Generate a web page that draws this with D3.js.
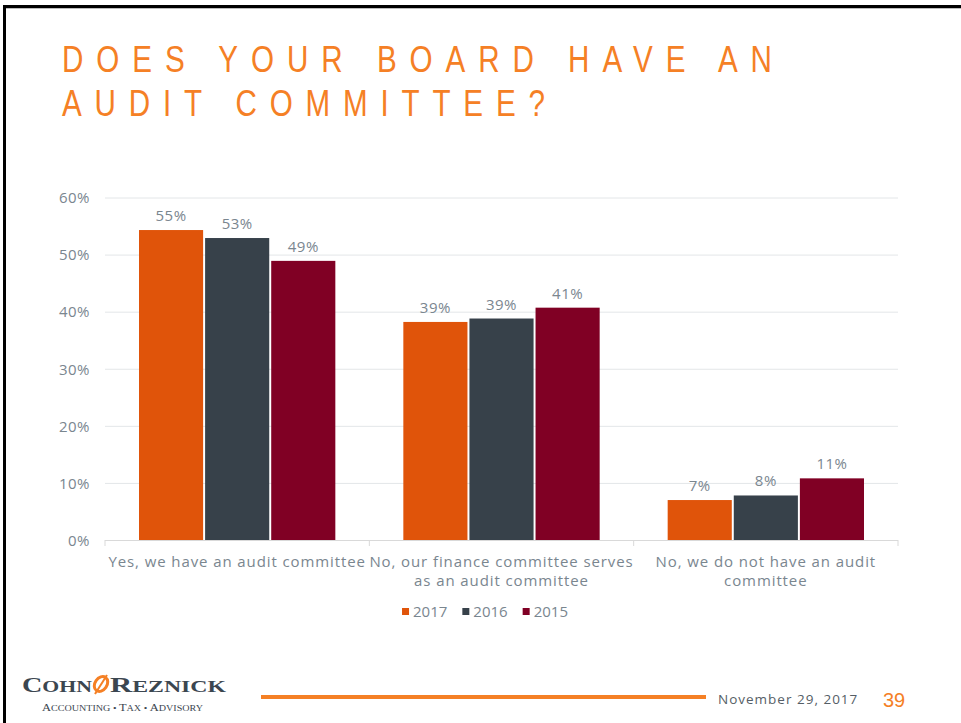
<!DOCTYPE html>
<html>
<head>
<meta charset="utf-8">
<script src="https://cdn.jsdelivr.net/npm/d3@7"></script>
<style>
  html, body { margin: 0; padding: 0; background: #fff; }
  svg { display: block; }
</style>
</head>
<body>
<svg id="chart" width="961" height="723"></svg>
<script>
// ---- data ----
const categories = [
  ["Yes, we have an audit committee"],
  ["No, our finance committee serves", "as an audit committee"],
  ["No, we do not have an audit", "committee"]
];
const seriesNames = ["2017", "2016", "2015"];
const values2017 = [0.543, 0.382, 0.070];
const values2016 = [0.529, 0.388, 0.078];
const values2015 = [0.489, 0.407, 0.108];
const labels2017 = ["55%", "39%", "7%"];
const labels2016 = ["53%", "39%", "8%"];
const labels2015 = ["49%", "41%", "11%"];
const yTicks = [0, 0.1, 0.2, 0.3, 0.4, 0.5, 0.6];
const colors = ["#E0540A", "#37414A", "#800024"];
const titleLines = ["DOES YOUR BOARD HAVE AN", "AUDIT COMMITTEE?"];

const seriesValues = [values2017, values2016, values2015];
const seriesLabels = [labels2017, labels2016, labels2015];

const svg = d3.select("#chart");
const font = "'Open Sans', sans-serif";
const grayText = "#7A868F";

// ---- frame ----
svg.append("rect").attr("x", 3).attr("y", 5).attr("width", 958).attr("height", 3).attr("fill", "#000");
svg.append("rect").attr("x", 3).attr("y", 5).attr("width", 3).attr("height", 718).attr("fill", "#000");
svg.append("rect").attr("x", 6).attr("y", 8).attr("width", 955).attr("height", 1).attr("fill", "#bbb");

// ---- title ----
const titleWidths = [710, 483];
const sx = 0.8;
svg.append("g").attr("transform", `scale(${sx},1)`)
  .selectAll("text.title").data(titleLines).join("text")
  .attr("class", "title")
  .attr("x", 62 / sx)
  .attr("y", (d, i) => 72 + i * 44)
  .attr("textLength", (d, i) => titleWidths[i] / sx)
  .attr("lengthAdjust", "spacing")
  .attr("font-family", "'Liberation Sans', Arial, sans-serif")
  .attr("font-size", 37)
  .attr("fill", "#F58025")
  .text(d => d);

// ---- scales ----
const y = d3.scaleLinear().domain([0, 0.6]).range([540, 197.5]);
const x0 = d3.scaleBand().domain(d3.range(categories.length)).range([105, 898]).padding(0);
const groupPad = 34;
const x1 = d3.scaleBand().domain(d3.range(seriesNames.length))
  .range([groupPad, x0.bandwidth() - groupPad]).paddingInner(0.03);

// ---- gridlines & y axis ----
const yAxis = d3.axisLeft(y).tickValues(yTicks).tickFormat(d3.format(".0%"))
  .tickSize(-(898 - 105)).tickPadding(15);
const gy = svg.append("g").attr("transform", "translate(105,0)").call(yAxis);
gy.select(".domain").remove();
gy.selectAll(".tick line").attr("stroke", "#E3E6E8").attr("stroke-width", 1);
gy.selectAll(".tick text").attr("font-family", font).attr("font-size", 15)
  .attr("letter-spacing", 0.5)
  .attr("fill", grayText).attr("dy", "0.35em");

// ---- bars ----
const groups = svg.append("g").selectAll("g").data(categories).join("g")
  .attr("transform", (d, i) => `translate(${x0(i)},0)`);

groups.each(function(cat, ci) {
  const g = d3.select(this);
  seriesNames.forEach((s, si) => {
    const v = seriesValues[si][ci];
    g.append("rect")
      .attr("x", x1(si))
      .attr("y", y(v))
      .attr("width", x1.bandwidth())
      .attr("height", y(0) - y(v))
      .attr("fill", colors[si]);
    g.append("text")
      .attr("x", x1(si) + x1.bandwidth() / 2)
      .attr("y", y(v) - 9)
      .attr("text-anchor", "middle")
      .attr("font-family", font).attr("font-size", 15)
      .attr("letter-spacing", 0.5)
      .attr("fill", grayText)
      .text(seriesLabels[si][ci]);
  });
});

// ---- x axis ----
const xa = svg.append("g");
xa.append("line").attr("x1", 105).attr("x2", 898).attr("y1", y(0) + 0.5).attr("y2", y(0) + 0.5)
  .attr("stroke", "#D9D9D9").attr("stroke-width", 1);
const bounds = categories.map((d, i) => x0(i)).concat([x0(categories.length - 1) + x0.bandwidth()]);
xa.selectAll("line.tk").data(bounds).join("line").attr("class", "tk")
  .attr("x1", d => d).attr("x2", d => d).attr("y1", y(0)).attr("y2", y(0) + 6)
  .attr("stroke", "#D9D9D9");
xa.selectAll("text.cat").data(categories).join("text").attr("class", "cat")
  .attr("x", (d, i) => x0(i) + x0.bandwidth() / 2)
  .attr("y", 567)
  .attr("text-anchor", "middle")
  .attr("font-family", font).attr("font-size", 15).attr("fill", grayText)
  .attr("letter-spacing", 0.9)
  .each(function(lines) {
    d3.select(this).selectAll("tspan").data(lines).join("tspan")
      .attr("x", d3.select(this).attr("x"))
      .attr("dy", (d, i) => i === 0 ? 0 : 19)
      .text(d => d);
  });

// ---- legend ----
const legend = svg.append("g");
let lx = 0;
seriesNames.forEach((s, i) => {
  const item = legend.append("g").attr("transform", `translate(${lx},0)`);
  item.append("rect").attr("x", 0).attr("y", 608).attr("width", 7).attr("height", 7).attr("fill", colors[i]);
  const t = item.append("text").attr("x", 11).attr("y", 617)
    .attr("font-family", font).attr("font-size", 15).attr("fill", grayText).text(s);
  lx += 11 + t.node().getComputedTextLength() + 15;
});
const lw = lx - 15;
legend.attr("transform", `translate(${485 - lw / 2},0)`);

// ---- footer ----
svg.append("line").attr("x1", 261).attr("x2", 706).attr("y1", 697).attr("y2", 697)
  .attr("stroke", "#F58025").attr("stroke-width", 4);
svg.append("text").attr("x", 718).attr("y", 704)
  .attr("font-family", font).attr("font-size", 13.5).attr("letter-spacing", 1)
  .attr("fill", "#555E66").text("November 29, 2017");
svg.append("text").attr("x", 883).attr("y", 707)
  .attr("font-family", "'Liberation Sans', Arial, sans-serif").attr("font-size", 20)
  .attr("fill", "#F58025").text("39");

// ---- logo ----
const logo = svg.append("g");
const serif = "'Liberation Serif', 'DejaVu Serif', serif";
const lt1 = logo.append("text").attr("x", 22).attr("y", 692)
  .attr("font-family", serif).attr("fill", "#3B4650").attr("font-weight", "bold")
  .attr("textLength", 70).attr("lengthAdjust", "spacingAndGlyphs");
lt1.append("tspan").attr("font-size", 22).text("C");
lt1.append("tspan").attr("font-size", 17).text("OHN");
logo.append("ellipse").attr("cx", 101).attr("cy", 684).attr("rx", 6).attr("ry", 8)
  .attr("fill", "none").attr("stroke", "#F58025").attr("stroke-width", 3)
  .attr("transform", "rotate(35,101,684)");
logo.append("line").attr("x1", 95).attr("y1", 694).attr("x2", 107).attr("y2", 675)
  .attr("stroke", "#F58025").attr("stroke-width", 2);
const lt2 = logo.append("text").attr("x", 110).attr("y", 692)
  .attr("font-family", serif).attr("fill", "#3B4650").attr("font-weight", "bold")
  .attr("textLength", 116).attr("lengthAdjust", "spacingAndGlyphs");
lt2.append("tspan").attr("font-size", 22).text("R");
lt2.append("tspan").attr("font-size", 17).text("EZNICK");
const lt3 = logo.append("text").attr("x", 42).attr("y", 711)
  .attr("font-family", serif).attr("fill", "#3B4650").attr("textLength", 161).attr("lengthAdjust", "spacingAndGlyphs");
lt3.append("tspan").attr("font-size", 10.5).text("A");
lt3.append("tspan").attr("font-size", 8.5).text("CCOUNTING • ");
lt3.append("tspan").attr("font-size", 10.5).text("T");
lt3.append("tspan").attr("font-size", 8.5).text("AX • ");
lt3.append("tspan").attr("font-size", 10.5).text("A");
lt3.append("tspan").attr("font-size", 8.5).text("DVISORY");
</script>
</body>
</html>
